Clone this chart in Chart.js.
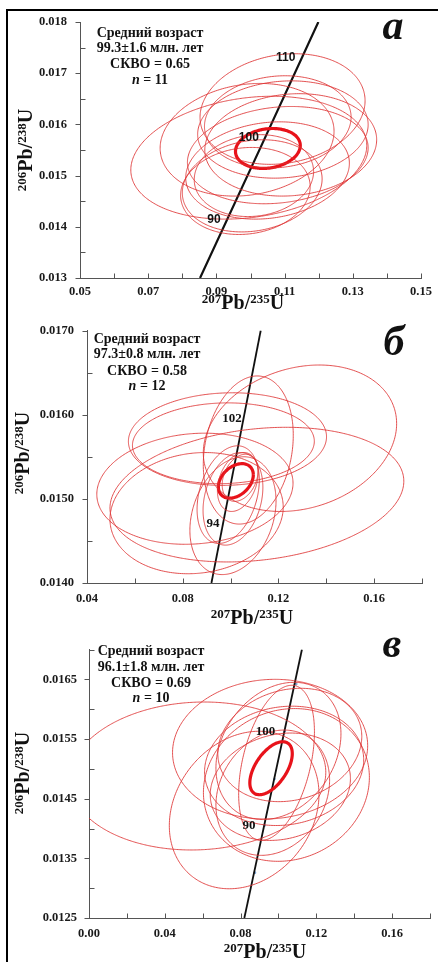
<!DOCTYPE html>
<html><head><meta charset="utf-8">
<script src="https://cdn.jsdelivr.net/npm/chart.js@4.4.1/dist/chart.umd.min.js"></script>
<style>
html,body{margin:0;padding:0;background:#fff;}
body{width:438px;height:962px;position:relative;overflow:hidden;}
#frame{position:absolute;left:6px;top:9px;width:460px;height:980px;border-left:2px solid #000;border-top:2px solid #000;}
canvas{position:absolute;left:0;}
</style></head><body>
<div id="frame"></div>
<canvas id="ca" width="438" height="310" style="top:0px"></canvas>
<canvas id="cb" width="438" height="320" style="top:310px"></canvas>
<canvas id="cc" width="438" height="332" style="top:630px"></canvas>
<script>
// ---------- DATA ----------
// Panel а
const xMajorA = [0.05, 0.07, 0.09, 0.11, 0.13, 0.15];
const xMinorA = [0.06, 0.08, 0.10, 0.12, 0.14];
const yMajorA = [0.013, 0.014, 0.015, 0.016, 0.017, 0.018];
const yMinorA = [0.0135, 0.0145, 0.0155, 0.0165, 0.0175];
// ellipses: [centre 207/235, centre 206/238, half-width x, half-height y, correlation]
const ellipsesA = [
  [0.1094, 0.01630, 0.0242, 0.00108, 0.15],
  [0.0995, 0.01535, 0.0346, 0.00120, 0.20],
  [0.0990, 0.01570, 0.0255, 0.00110, 0.15],
  [0.1118, 0.01560, 0.0252, 0.00100, 0.10],
  [0.1095, 0.01590, 0.0250, 0.00095, 0.10],
  [0.1005, 0.01480, 0.0205, 0.00090, 0.15],
  [0.0985, 0.01470, 0.0190, 0.00085, 0.10],
  [0.1080, 0.01540, 0.0265, 0.00095, 0.15],
  [0.1050, 0.01510, 0.0240, 0.00095, 0.15],
  [0.1080, 0.01605, 0.0215, 0.00090, 0.10],
  [0.1010, 0.01500, 0.0175, 0.00080, 0.10]
];
const meanA = [0.1051, 0.01553, 0.0095, 0.00039, 0.15];
const concXA = [0.0852, 0.1035, 0.1199];
const concYA = [0.0130, 0.01563, 0.0180];
const ageTextA = ['110', '100', '90'];
const ageXA = [0.1103, 0.0995, 0.0893];
const ageYA = [0.01730, 0.01574, 0.01413];
const statsA = ['Средний возраст', '99.3±1.6 млн. лет', 'СКВО = 0.65', '11'];

// Panel б
const xMajorB = [0.04, 0.08, 0.12, 0.16];
const xMinorB = [0.06, 0.10, 0.14, 0.18];
const yMajorB = [0.0140, 0.0150, 0.0160, 0.0170];
const yMinorB = [0.0145, 0.0155, 0.0165];
const ellipsesB = [
  [0.1290, 0.01572, 0.0404, 0.00087, 0.20],
  [0.1110, 0.01505, 0.0614, 0.00080, 0.20],
  [0.0987, 0.01571, 0.0414, 0.00055, 0.05],
  [0.0970, 0.01566, 0.0380, 0.00048, 0.05],
  [0.0851, 0.01512, 0.0410, 0.00066, 0.10],
  [0.0858, 0.01483, 0.0362, 0.00072, 0.10],
  [0.1074, 0.01558, 0.0188, 0.00088, 0.20],
  [0.1010, 0.01500, 0.0125, 0.00055, 0.25],
  [0.1030, 0.01520, 0.0085, 0.00035, 0.30],
  [0.1040, 0.01525, 0.0075, 0.00028, 0.30],
  [0.1010, 0.01480, 0.0180, 0.00070, 0.25],
  [0.0990, 0.01505, 0.0130, 0.00058, 0.30]
];
const meanB = [0.1022, 0.015213, 0.0073, 0.000205, 0.35];
const concXB = [0.0920, 0.1126];
const concYB = [0.0140, 0.0170];
const ageTextB = ['102', '94'];
const ageXB = [0.1006, 0.0927];
const ageYB = [0.015953, 0.014703];
const statsB = ['Средний возраст', '97.3±0.8 млн. лет', 'СКВО = 0.58', '12'];

// Panel в
const xMajorC = [0.00, 0.04, 0.08, 0.12, 0.16];
const xMinorC = [0.02, 0.06, 0.10, 0.14, 0.18];
const yMajorC = [0.0125, 0.0135, 0.0145, 0.0155, 0.0165];
const yMinorC = [0.0130, 0.0140, 0.0150, 0.0160, 0.0170];
const ellipsesC = [
  [0.0574, 0.01488, 0.0676, 0.00124, 0.05],
  [0.0956, 0.01533, 0.0515, 0.00117, 0.05],
  [0.0819, 0.01431, 0.0395, 0.00132, 0.20],
  [0.1042, 0.01473, 0.0438, 0.00128, 0.10],
  [0.1030, 0.01505, 0.0420, 0.00100, 0.10],
  [0.0990, 0.01510, 0.0200, 0.00130, 0.40],
  [0.1000, 0.01530, 0.0330, 0.00115, 0.25],
  [0.1010, 0.01470, 0.0370, 0.00090, 0.15],
  [0.0970, 0.01460, 0.0300, 0.00105, 0.20],
  [0.1060, 0.01540, 0.0380, 0.00095, 0.15]
];
const meanC = [0.0961, 0.01501, 0.0112, 0.000444, 0.55];
const concXC = [0.0820, 0.1124];
const concYC = [0.0125, 0.0170];
const concDotXC = [0.1094, 0.1033, 0.0979, 0.0927, 0.0876];
const concDotYC = [0.01642, 0.01563, 0.01483, 0.01405, 0.01326];
const ageTextC = ['100', '90'];
const ageXC = [0.0932, 0.0845];
const ageYC = [0.015618, 0.014051];
const statsC = ['Средний возраст', '96.1±1.8 млн. лет', 'СКВО = 0.69', '10'];

// ---------- DRAWING ----------
const SERIF = "'Liberation Serif','Times New Roman',serif";
const THIN = 'rgba(222,50,50,0.85)';
const THICK = '#e8121a';

function ellipseOutline(e) {
  const [cx, cy, sx, sy, r] = e;
  const q = Math.sqrt(1 - r * r);
  const pts = [];
  for (let i = 0; i <= 144; i++) {
    const t = i / 144 * 2 * Math.PI;
    pts.push({x: cx + sx * Math.cos(t), y: cy + sy * (r * Math.cos(t) + q * Math.sin(t))});
  }
  return pts;
}
function isIn(v, arr) { return arr.some(a => Math.abs(a - v) < 1e-9); }

function drawSup(ctx, parts, size, supSize, raise) {
  let w = 0;
  parts.forEach(p => { ctx.font = 'bold ' + (p.s ? supSize : size) + 'px ' + SERIF; p.w = ctx.measureText(p.t).width; w += p.w; });
  let x = -w / 2;
  parts.forEach(p => {
    ctx.font = 'bold ' + (p.s ? supSize : size) + 'px ' + SERIF;
    ctx.fillText(p.t, x, p.s ? -raise : 0);
    x += p.w;
  });
}

function makeChart(id, c) {
  const datasets = [];
  c.ellipses.forEach(e => datasets.push({data: ellipseOutline(e), showLine: true, borderColor: THIN, borderWidth: 1, pointRadius: 0, tension: 0.2, fill: false}));
  datasets.push({data: ellipseOutline(c.mean), showLine: true, borderColor: THICK, borderWidth: 3.2, pointRadius: 0, tension: 0.2, fill: false});
  datasets.push({data: c.concX.map((x, i) => ({x: x, y: c.concY[i]})), showLine: true, borderColor: '#111', borderWidth: c.concW, pointRadius: 0, tension: 0, fill: false});
  if (c.dotX) datasets.push({data: c.dotX.map((x, i) => ({x: x, y: c.dotY[i]})), showLine: false, pointRadius: 1.3, pointBackgroundColor: '#7ea8d8', pointBorderWidth: 0});

  const deco = {
    id: 'deco' + id,
    afterDraw(chart) {
      const ctx = chart.ctx, xs = chart.scales.x, ys = chart.scales.y;
      ctx.save();
      ctx.strokeStyle = '#555'; ctx.lineWidth = 1;
      const ax = Math.round(xs.left) + 0.5, ay = Math.round(ys.bottom) + 0.5;
      c.yMajor.concat(c.yMinor).forEach(v => {
        const p = Math.round(ys.getPixelForValue(v)) + 0.5;
        ctx.beginPath();
        if (isIn(v, c.yMajor)) { ctx.moveTo(ax - 5, p); ctx.lineTo(ax, p); }
        else { ctx.moveTo(ax, p); ctx.lineTo(ax + 5, p); }
        ctx.stroke();
      });
      c.xMajor.concat(c.xMinor).forEach(v => {
        const p = Math.round(xs.getPixelForValue(v)) + 0.5;
        ctx.beginPath(); ctx.moveTo(p, ay); ctx.lineTo(p, ay - 5); ctx.stroke();
      });
      ctx.fillStyle = '#111';
      ctx.font = c.ageFont; ctx.textAlign = 'center'; ctx.textBaseline = 'middle';
      c.ageText.forEach((t, i) => ctx.fillText(t, xs.getPixelForValue(c.ageX[i]), ys.getPixelForValue(c.ageY[i])));
      ctx.textBaseline = 'alphabetic';
      ctx.font = 'bold 14px ' + SERIF;
      for (let i = 0; i < 3; i++) ctx.fillText(c.stats[i], c.statX, c.statY[i]);
      ctx.font = 'italic bold 14px ' + SERIF; const w1 = ctx.measureText('n').width;
      ctx.font = 'bold 14px ' + SERIF; const rest = ' = ' + c.stats[3]; const w2 = ctx.measureText(rest).width;
      ctx.textAlign = 'left';
      const sx = c.statX - (w1 + w2) / 2;
      ctx.font = 'italic bold 14px ' + SERIF; ctx.fillText('n', sx, c.statY[3]);
      ctx.font = 'bold 14px ' + SERIF; ctx.fillText(rest, sx + w1, c.statY[3]);
      ctx.textAlign = 'center';
      ctx.font = 'italic bold 42px ' + SERIF; ctx.fillText(c.letter, c.letterX, c.letterY);
      ctx.textAlign = 'left';
      ctx.save(); ctx.translate(c.xtX, c.xtY);
      drawSup(ctx, [{t: '207', s: 1}, {t: 'Pb/'}, {t: '235', s: 1}, {t: 'U'}], 20, 13, 6.5);
      ctx.restore();
      ctx.save(); ctx.translate(c.ytX, c.ytY); ctx.rotate(-Math.PI / 2);
      drawSup(ctx, [{t: '206', s: 1}, {t: 'Pb/'}, {t: '238', s: 1}, {t: 'U'}], 20, 13, 6.5);
      ctx.restore();
      ctx.restore();
    }
  };

  const xAll = c.xMajor.concat(c.xMinor).sort((a, b) => a - b);
  const yAll = c.yMajor.concat(c.yMinor).sort((a, b) => a - b);
  return new Chart(document.getElementById(id), {
    type: 'scatter',
    data: {datasets: datasets},
    plugins: [deco],
    options: {
      responsive: false, animation: false, events: [],
      layout: {padding: {left: 0, right: c.R, top: c.T, bottom: 0}},
      plugins: {legend: {display: false}, tooltip: {enabled: false}},
      scales: {
        x: {
          type: 'linear', min: c.xMin, max: c.xMax,
          afterBuildTicks: s => { s.ticks = xAll.map(v => ({value: v})); },
          afterFit: s => { s.height = c.H; },
          grid: {display: false, drawTicks: false, tickLength: 0},
          border: {display: true, color: '#555', width: 1},
          ticks: {autoSkip: false, maxRotation: 0, padding: c.xPad, color: '#1a1a1a',
            font: {family: SERIF, size: 12.5, weight: 'bold'},
            callback: v => isIn(v, c.xMajor) ? v.toFixed(2) : ''}
        },
        y: {
          type: 'linear', min: c.yMin, max: c.yMax,
          afterBuildTicks: s => { s.ticks = yAll.map(v => ({value: v})); },
          afterFit: s => { s.width = c.L; },
          grid: {display: false, drawTicks: false, tickLength: 0},
          border: {display: true, color: '#555', width: 1},
          ticks: {autoSkip: false, padding: c.yPad, color: '#1a1a1a',
            font: {family: SERIF, size: 12.5, weight: 'bold'},
            callback: v => isIn(v, c.yMajor) ? v.toFixed(c.yDec) : ''}
        }
      }
    }
  });
}

makeChart('ca', {
  xMin: 0.05, xMax: 0.15, yMin: 0.013, yMax: 0.018, yDec: 3,
  xMajor: xMajorA, xMinor: xMinorA, yMajor: yMajorA, yMinor: yMinorA,
  ellipses: ellipsesA, mean: meanA, concX: concXA, concY: concYA, concW: 2.2,
  ageText: ageTextA, ageX: ageXA, ageY: ageYA, stats: statsA,
  ageFont: "bold 12px 'Liberation Sans', Arial, sans-serif",
  L: 80, R: 17, T: 22, H: 32, xPad: 6, yPad: 13,
  statX: 150, statY: [37, 52, 68, 84], letter: 'а', letterX: 393, letterY: 39,
  xtX: 243, xtY: 309, ytX: 32, ytY: 150
});
makeChart('cb', {
  xMin: 0.04, xMax: 0.18, yMin: 0.0140, yMax: 0.0170, yDec: 4,
  xMajor: xMajorB, xMinor: xMinorB, yMajor: yMajorB, yMinor: yMinorB,
  ellipses: ellipsesB, mean: meanB, concX: concXB, concY: concYB, concW: 1.8,
  ageText: ageTextB, ageX: ageXB, ageY: ageYB, stats: statsB,
  ageFont: 'bold 13px ' + SERIF,
  L: 87, R: 16, T: 17, H: 47, xPad: 8, yPad: 13,
  statX: 147, statY: [33, 48, 65, 80], letter: 'б', letterX: 394, letterY: 45,
  xtX: 252, xtY: 314, ytX: 29, ytY: 143
});
makeChart('cc', {
  xMin: 0.00, xMax: 0.18, yMin: 0.0125, yMax: 0.0170, yDec: 4,
  xMajor: xMajorC, xMinor: xMinorC, yMajor: yMajorC, yMinor: yMinorC,
  ellipses: ellipsesC, mean: meanC, concX: concXC, concY: concYC, concW: 1.8,
  dotX: concDotXC, dotY: concDotYC,
  ageText: ageTextC, ageX: ageXC, ageY: ageYC, stats: statsC,
  ageFont: 'bold 13px ' + SERIF,
  L: 89, R: 0, T: 13, H: 44, xPad: 8, yPad: 12,
  statX: 151, statY: [25, 41, 57, 72], letter: 'в', letterX: 392, letterY: 27,
  xtX: 265, xtY: 328, ytX: 29, ytY: 143
});
</script>
</body></html>
